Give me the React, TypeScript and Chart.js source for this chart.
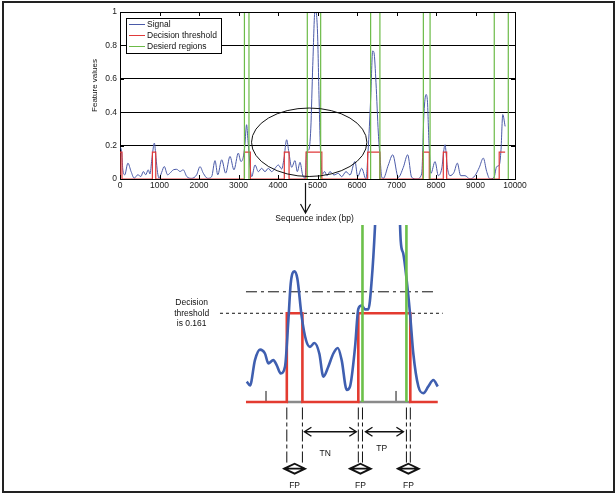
import React, { useEffect, useRef } from "react";
import { Chart, registerables } from "chart.js";

Chart.register(...registerables);

const FONT = '"Liberation Sans", Arial, Helvetica, sans-serif';

// ---------- Overview (top) chart ----------
const signalPos = [
  0, 40, 70, 120, 200, 280, 360, 450, 530, 590, 650, 715, 760, 805, 870, 910, 950, 990,
  1055, 1120, 1205, 1265, 1350, 1435, 1520, 1600, 1690, 1810, 1940, 2025, 2110, 2220, 2320,
  2405, 2475, 2575, 2675, 2785, 2885, 2995, 3060, 3120, 3160, 3205, 3240, 3266, 3305, 3335,
  3418, 3502, 3586, 3671, 3755, 3840, 3924, 4008, 4093, 4150, 4219, 4275, 4346, 4430, 4489,
  4557, 4624, 4684, 4730, 4780, 4830, 4880, 4940, 5000, 5040, 5080, 5130, 5180, 5240, 5316,
  5418, 5527, 5612, 5722, 5823, 5949, 6017, 6118, 6228, 6280, 6346, 6397, 6430, 6481, 6540,
  6582, 6624, 6667, 6793, 6905, 7046, 7173, 7283, 7384, 7511, 7637, 7696, 7747, 7780, 7823,
  7873, 7975, 8060, 8143, 8228, 8287, 8354, 8456, 8540, 8624, 8734, 8861, 8987, 9097, 9198,
  9283, 9367, 9469, 9536, 9603, 9646, 9690, 9750,
];
const signalVal = [
  0.19, 0.165, 0.06, 0.025, 0.095, 0.045, 0.005, 0.025, 0.015, 0.045, 0.025, 0.055, 0.03, 0.115, 0.215, 0.13, 0.04, 0.005,
  0.04, 0.075, 0.025, 0.035, 0.055, 0.058, 0.045, 0.055, 0.015, 0.004, 0.025, 0.074, 0.034, 0.004, 0.014,
  0.11, 0.025, 0.115, 0.035, 0.135, 0.055, 0.155, 0.105, 0.13, 0.2, 0.325, 0.23, 0.155, 0.045, 0.014,
  0.084, 0.044, 0.064, 0.044, 0.064, 0.044, 0.064, 0.084, 0.06, 0.12, 0.235, 0.16, 0.07, 0.11, 0.044,
  0.1, 0.024, 0.005, 0.165, 0.175, 0.3, 0.68, 1.02, 0.88, 0.48, 0.14, 0.03, 0.045, 0.02, 0.044,
  0.024, 0.034, 0.014, 0.044, 0.024, 0.105, 0.014, 0.064, 0.0, 0.165, 0.48, 0.767, 0.757, 0.576, 0.275,
  0.134, 0.014, 0.004, 0.084, 0.145, 0.01, 0.07, 0.145, 0.01, 0.0, 0.03, 0.396, 0.506, 0.476, 0.215,
  0.034, 0.104, 0.02, 0.06, 0.205, 0.07, 0.02, 0.04, 0.095, 0.02, 0.02, 0.0, 0.02, 0.07, 0.125,
  0.045, 0.0, 0.01, 0.074, 0.084, 0.175, 0.386, 0.315,
];
const threshold = 0.161;
const detectStart = [0, 820, 3150, 4160, 4710, 6270, 7670, 8185, 9600];
const detectEnd = [50, 905, 3300, 4280, 5110, 6580, 7830, 8270, 9750];
const desiredStart = [3150, 4742, 6345, 7680, 9475];
const desiredEnd = [3265, 5080, 6580, 7850, 9830];
const xRange = [0, 10000];
const yRange = [0, 1];
const xStep = 1000;
const yStep = 0.2;
const legendLabels = ["Signal", "Decision threshold", "Desierd regions"];
const xTitle = "Sequence index (bp)";
const yTitle = "Feature values";
const focusCenter = [4790, 0.22];
const focusRadius = [1460, 0.205];
const focusArrowAt = 4690;

// ---------- Zoomed (bottom) schematic ----------
const zoomPos = [
  3852, 3877, 3915, 3954, 3992, 4018, 4056, 4082, 4113, 4146, 4172, 4190, 4218, 4241, 4275,
  4308, 4338, 4372, 4410, 4441, 4479, 4518, 4552, 4582, 4621, 4646, 4685, 4710, 4736, 4762,
  4787, 4813, 4838, 4862, 4940, 5015, 5036, 5056, 5082, 5108, 5133, 5172, 5210, 5248, 5287, 5321,
];
const zoomVal = [
  0.037, 0.03, 0.076, 0.095, 0.088, 0.07, 0.076, 0.067, 0.052, 0.064, 0.148, 0.215, 0.237, 0.224, 0.154,
  0.112, 0.1, 0.107, 0.088, 0.046, 0.064, 0.088, 0.098, 0.076, 0.022, 0.028, 0.1, 0.169, 0.175, 0.168,
  0.168, 0.221, 0.317, 0.456, 0.9, 0.456, 0.293, 0.269, 0.221, 0.16, 0.088, 0.028, 0.016, 0.028, 0.04, 0.028,
];
const zoomDetectStart = [4160, 4710];
const zoomDetectEnd = [4280, 5110];
const zoomDesired = [4742, 5080];
const zoomBase = [3846, 5321];
const zoomAxisTicks = [4000, 5000];
const zoomTickHeight = 0.02;
const zoomGuideLevel = 0.2;
const zoomGuideSpan = [3846, 5300];
const zoomThrSpan = [3646, 5359];
const zoomView = { xMin: 1954, xMax: 6692, yMin: -0.167, yMax: 0.3212 };
const noteLines = ["Decision", "threshold", "is 0.161"];
const noteAt = 3428;
const markerSpan = [-0.01, -0.11];
const arrowLevel = -0.054;
const diamondLevel = -0.121;
const labelLevelFP = -0.152;
const labelTN = [4455, -0.094];
const labelTP = [4890, -0.084];

function stepLine(starts: number[], ends: number[], thr: number, from: number, to: number, lastX: number) {
  const pts: { x: number; y: number }[] = [{ x: from, y: 0 }];
  starts.forEach((s, i) => {
    const e = ends[i];
    pts.push({ x: s, y: 0 }, { x: s, y: thr }, { x: e, y: thr });
    if (e < lastX) pts.push({ x: e, y: 0 });
  });
  if (ends[ends.length - 1] < to) pts.push({ x: to, y: 0 });
  return pts;
}

function verticals(xs: number[], y0: number, y1: number) {
  const pts: { x: number; y: number | null }[] = [];
  xs.forEach((x) => pts.push({ x, y: y0 }, { x, y: y1 }, { x, y: null }));
  return pts;
}

const topDecor = {
  id: "topDecor",
  afterDatasetsDraw(chart: any) {
    const { ctx, chartArea: a, scales } = chart;
    const xs = scales.x;
    const ys = scales.y;
    ctx.save();
    ctx.strokeStyle = "#000";
    ctx.lineWidth = 1;
    ctx.beginPath();
    ctx.moveTo(a.left, Math.round(a.top) + 0.5);
    ctx.lineTo(Math.round(a.right) + 0.5, Math.round(a.top) + 0.5);
    ctx.lineTo(Math.round(a.right) + 0.5, a.bottom);
    ctx.stroke();
    ctx.beginPath();
    xs.ticks.forEach((t: any) => {
      const px = Math.round(xs.getPixelForValue(t.value)) + 0.5;
      ctx.moveTo(px, a.bottom);
      ctx.lineTo(px, a.bottom - 4);
      ctx.moveTo(px, a.top);
      ctx.lineTo(px, a.top + 4);
    });
    ys.ticks.forEach((t: any) => {
      const py = Math.round(ys.getPixelForValue(t.value)) + 0.5;
      ctx.moveTo(a.left, py);
      ctx.lineTo(a.left + 4, py);
      ctx.moveTo(a.right, py);
      ctx.lineTo(a.right - 4, py);
    });
    ctx.stroke();

    // focus ellipse
    const cx = xs.getPixelForValue(focusCenter[0]);
    const cy = ys.getPixelForValue(focusCenter[1]);
    const rx = Math.abs(xs.getPixelForValue(focusCenter[0] + focusRadius[0]) - cx);
    const ry = Math.abs(ys.getPixelForValue(focusCenter[1] + focusRadius[1]) - cy);
    ctx.beginPath();
    ctx.ellipse(cx, cy, rx, ry, 0, 0, Math.PI * 2);
    ctx.strokeStyle = "#111";
    ctx.stroke();

    // legend
    const lx = a.left + 6;
    const ly = a.top + 6;
    ctx.fillStyle = "#fff";
    ctx.fillRect(lx, ly, 95, 35);
    ctx.strokeStyle = "#000";
    ctx.strokeRect(lx + 0.5, ly + 0.5, 95, 35);
    const cols = ["#4a5aa8", "#e03a3a", "#6cbb48"];
    ctx.font = `8.5px ${FONT}`;
    ctx.textBaseline = "middle";
    ctx.textAlign = "left";
    legendLabels.forEach((lab, i) => {
      const yy = ly + 6.5 + i * 11;
      ctx.beginPath();
      ctx.strokeStyle = cols[i];
      ctx.moveTo(lx + 3, yy);
      ctx.lineTo(lx + 19, yy);
      ctx.stroke();
      ctx.fillStyle = "#111";
      ctx.fillText(lab, lx + 21, yy);
    });

    // arrow to zoom
    const ax = Math.round(xs.getPixelForValue(focusArrowAt)) + 0.5;
    ctx.strokeStyle = "#111";
    ctx.lineWidth = 1.2;
    ctx.beginPath();
    ctx.moveTo(ax, a.bottom + 4);
    ctx.lineTo(ax, a.bottom + 34);
    ctx.moveTo(ax - 5, a.bottom + 25);
    ctx.lineTo(ax, a.bottom + 34);
    ctx.lineTo(ax + 5, a.bottom + 25);
    ctx.stroke();

    // titles
    ctx.fillStyle = "#111";
    ctx.textAlign = "center";
    ctx.font = `8.5px ${FONT}`;
    ctx.fillText(xTitle, (a.left + a.right) / 2 - 3, a.bottom + 40);
    ctx.save();
    ctx.translate(a.left - 25, (a.top + a.bottom) / 2 - 10);
    ctx.rotate(-Math.PI / 2);
    ctx.font = `8px ${FONT}`;
    ctx.fillText(yTitle, 0, 0);
    ctx.restore();
    ctx.restore();
  },
};

const zoomDecor = {
  id: "zoomDecor",
  afterDatasetsDraw(chart: any) {
    const { ctx, scales } = chart;
    const X = (v: number) => scales.x.getPixelForValue(v);
    const Y = (v: number) => scales.y.getPixelForValue(v);
    ctx.save();
    ctx.strokeStyle = "#111";
    ctx.fillStyle = "#111";
    ctx.lineWidth = 1.4;

    const dbl = (x1: number, x2: number, yy: number) => {
      ctx.beginPath();
      ctx.moveTo(x1, yy);
      ctx.lineTo(x2, yy);
      ctx.moveTo(x1 + 7, yy - 4.5);
      ctx.lineTo(x1, yy);
      ctx.lineTo(x1 + 7, yy + 4.5);
      ctx.moveTo(x2 - 7, yy - 4.5);
      ctx.lineTo(x2, yy);
      ctx.lineTo(x2 - 7, yy + 4.5);
      ctx.stroke();
    };
    const diamond = (cxv: number, cyv: number) => {
      const hw = 10.5;
      const hh = 5;
      ctx.beginPath();
      ctx.moveTo(cxv - hw, cyv);
      ctx.lineTo(cxv, cyv - hh);
      ctx.lineTo(cxv + hw, cyv);
      ctx.lineTo(cxv, cyv + hh);
      ctx.closePath();
      ctx.moveTo(cxv - hw, cyv);
      ctx.lineTo(cxv + hw, cyv);
      ctx.lineWidth = 1.8;
      ctx.stroke();
    };

    const ay = Y(arrowLevel);
    dbl(X(zoomDetectEnd[0]) + 2, X(zoomDetectStart[1]) - 2, ay);
    dbl(X(zoomDesired[0]) + 3, X(zoomDesired[1]) - 3, ay);

    const fpPairs = [
      [zoomDetectStart[0], zoomDetectEnd[0]],
      [zoomDetectStart[1], zoomDesired[0]],
      [zoomDesired[1], zoomDetectEnd[1]],
    ];
    ctx.font = `8.5px ${FONT}`;
    ctx.textAlign = "center";
    ctx.textBaseline = "middle";
    fpPairs.forEach(([s, e]) => {
      const c = X((s + e) / 2);
      diamond(c, Y(diamondLevel));
      ctx.fillText("FP", c, Y(labelLevelFP));
    });
    ctx.fillText("TN", X(labelTN[0]), Y(labelTN[1]));
    ctx.fillText("TP", X(labelTP[0]), Y(labelTP[1]));

    const ny = Y(threshold);
    noteLines.forEach((t, i) => {
      ctx.fillText(t, X(noteAt), ny + (i - 1) * 10.3);
    });
    ctx.restore();
  },
};

export default function App() {
  const topRef = useRef<HTMLCanvasElement>(null);
  const botRef = useRef<HTMLCanvasElement>(null);

  useEffect(() => {
    const tickFont = { family: FONT, size: 8.5 };
    const lastX = signalPos[signalPos.length - 1];
    const top = new Chart(topRef.current as HTMLCanvasElement, {
      type: "line",
      data: {
        datasets: [
          {
            label: legendLabels[2],
            data: verticals([...desiredStart, ...desiredEnd], yRange[0], yRange[1]) as any,
            borderColor: "#6cbb48",
            borderWidth: 1.2,
            pointRadius: 0,
            tension: 0,
            spanGaps: false,
            order: 0,
          },
          {
            label: legendLabels[1],
            data: stepLine(detectStart, detectEnd, threshold, xRange[0], lastX, lastX) as any,
            borderColor: "#e03a3a",
            borderWidth: 1.2,
            pointRadius: 0,
            tension: 0,
            order: 1,
          },
          {
            label: legendLabels[0],
            data: signalPos.map((x, i) => ({ x, y: signalVal[i] })) as any,
            borderColor: "#4a5aa8",
            borderWidth: 1,
            pointRadius: 0,
            cubicInterpolationMode: "monotone",
            order: 2,
          },
        ],
      },
      options: {
        animation: false,
        responsive: false,
        devicePixelRatio: 1,
        events: [],
        layout: { padding: { left: 0, top: 12, right: 101, bottom: 0 } },
        plugins: { legend: { display: false }, tooltip: { enabled: false } },
        scales: {
          x: {
            type: "linear",
            min: xRange[0],
            max: xRange[1],
            ticks: {
              stepSize: xStep,
              autoSkip: false,
              maxRotation: 0,
              padding: 2,
              color: "#1a1a1a",
              font: tickFont,
              callback: (v: any) => String(v),
            },
            grid: { display: false, drawTicks: false },
            border: { color: "#000", width: 1 },
            afterFit: (s: any) => {
              s.height = 46;
            },
          },
          y: {
            type: "linear",
            min: yRange[0],
            max: yRange[1],
            ticks: {
              stepSize: yStep,
              padding: 3,
              color: "#1a1a1a",
              font: tickFont,
              callback: (v: any) => String(Math.round(Number(v) * 10) / 10),
            },
            grid: { color: "#000", lineWidth: 1, drawTicks: false },
            border: { color: "#000", width: 1 },
            afterFit: (s: any) => {
              s.width = 120;
            },
          },
        },
      },
      plugins: [topDecor],
    } as any);

    const bot = new Chart(botRef.current as HTMLCanvasElement, {
      type: "line",
      data: {
        datasets: [
          {
            label: "desired",
            data: verticals(zoomDesired, 0, 0.34) as any,
            borderColor: "#6cc04a",
            borderWidth: 2.6,
            pointRadius: 0,
            tension: 0,
            order: 0,
          },
          {
            label: "signal",
            data: zoomPos.map((x, i) => ({ x, y: zoomVal[i] })) as any,
            borderColor: "#3f5fb0",
            borderWidth: 2.6,
            pointRadius: 0,
            cubicInterpolationMode: "monotone",
            order: 1,
          },
          {
            label: "decision",
            data: stepLine(zoomDetectStart, zoomDetectEnd, threshold, zoomBase[0], zoomBase[1], Infinity) as any,
            borderColor: "#e33b30",
            borderWidth: 2.6,
            pointRadius: 0,
            tension: 0,
            order: 2,
          },
          {
            label: "inside",
            data: zoomDetectStart.flatMap((s, i) => [
              { x: s, y: 0 },
              { x: zoomDetectEnd[i], y: 0 },
              { x: zoomDetectEnd[i], y: null },
            ]) as any,
            borderColor: "#8a8a8a",
            borderWidth: 2.6,
            pointRadius: 0,
            order: 3,
          },
          {
            label: "ticks",
            data: verticals(zoomAxisTicks, 0, zoomTickHeight) as any,
            borderColor: "#111",
            borderWidth: 1,
            pointRadius: 0,
            order: 4,
          },
          {
            label: "threshold",
            data: [
              { x: zoomThrSpan[0], y: threshold },
              { x: zoomThrSpan[1], y: threshold },
            ],
            borderColor: "#111",
            borderWidth: 1,
            borderDash: [3, 3],
            pointRadius: 0,
            order: 5,
          },
          {
            label: "guide",
            data: [
              { x: zoomGuideSpan[0], y: zoomGuideLevel },
              { x: zoomGuideSpan[1], y: zoomGuideLevel },
            ],
            borderColor: "#111",
            borderWidth: 1,
            borderDash: [11, 4, 3, 4],
            pointRadius: 0,
            order: 6,
          },
          {
            label: "markers",
            data: verticals(
              [zoomDetectStart[0], zoomDetectEnd[0], zoomDetectStart[1], zoomDesired[0], zoomDesired[1], zoomDetectEnd[1]],
              markerSpan[0],
              markerSpan[1]
            ) as any,
            borderColor: "#111",
            borderWidth: 1,
            borderDash: [12, 3, 4, 3],
            pointRadius: 0,
            order: 7,
          },
        ],
      },
      options: {
        animation: false,
        responsive: false,
        devicePixelRatio: 1,
        events: [],
        layout: { padding: 0 },
        plugins: { legend: { display: false }, tooltip: { enabled: false } },
        scales: {
          x: { type: "linear", display: false, min: zoomView.xMin, max: zoomView.xMax },
          y: { type: "linear", display: false, min: zoomView.yMin, max: zoomView.yMax },
        },
      },
      plugins: [zoomDecor],
    } as any);

    return () => {
      top.destroy();
      bot.destroy();
    };
  }, []);

  return (
    <div
      style={{
        position: "fixed",
        left: 0,
        top: 0,
        width: 616,
        height: 494,
        background: "#fff",
        overflow: "hidden",
      }}
    >
      <canvas ref={topRef} width={616} height={225} style={{ position: "absolute", left: 0, top: 0 }} />
      <canvas ref={botRef} width={616} height={269} style={{ position: "absolute", left: 0, top: 225 }} />
      <div
        style={{
          position: "absolute",
          left: 2,
          top: 1,
          width: 613,
          height: 492,
          boxSizing: "border-box",
          border: "2px solid #222",
          pointerEvents: "none",
        }}
      />
    </div>
  );
}
